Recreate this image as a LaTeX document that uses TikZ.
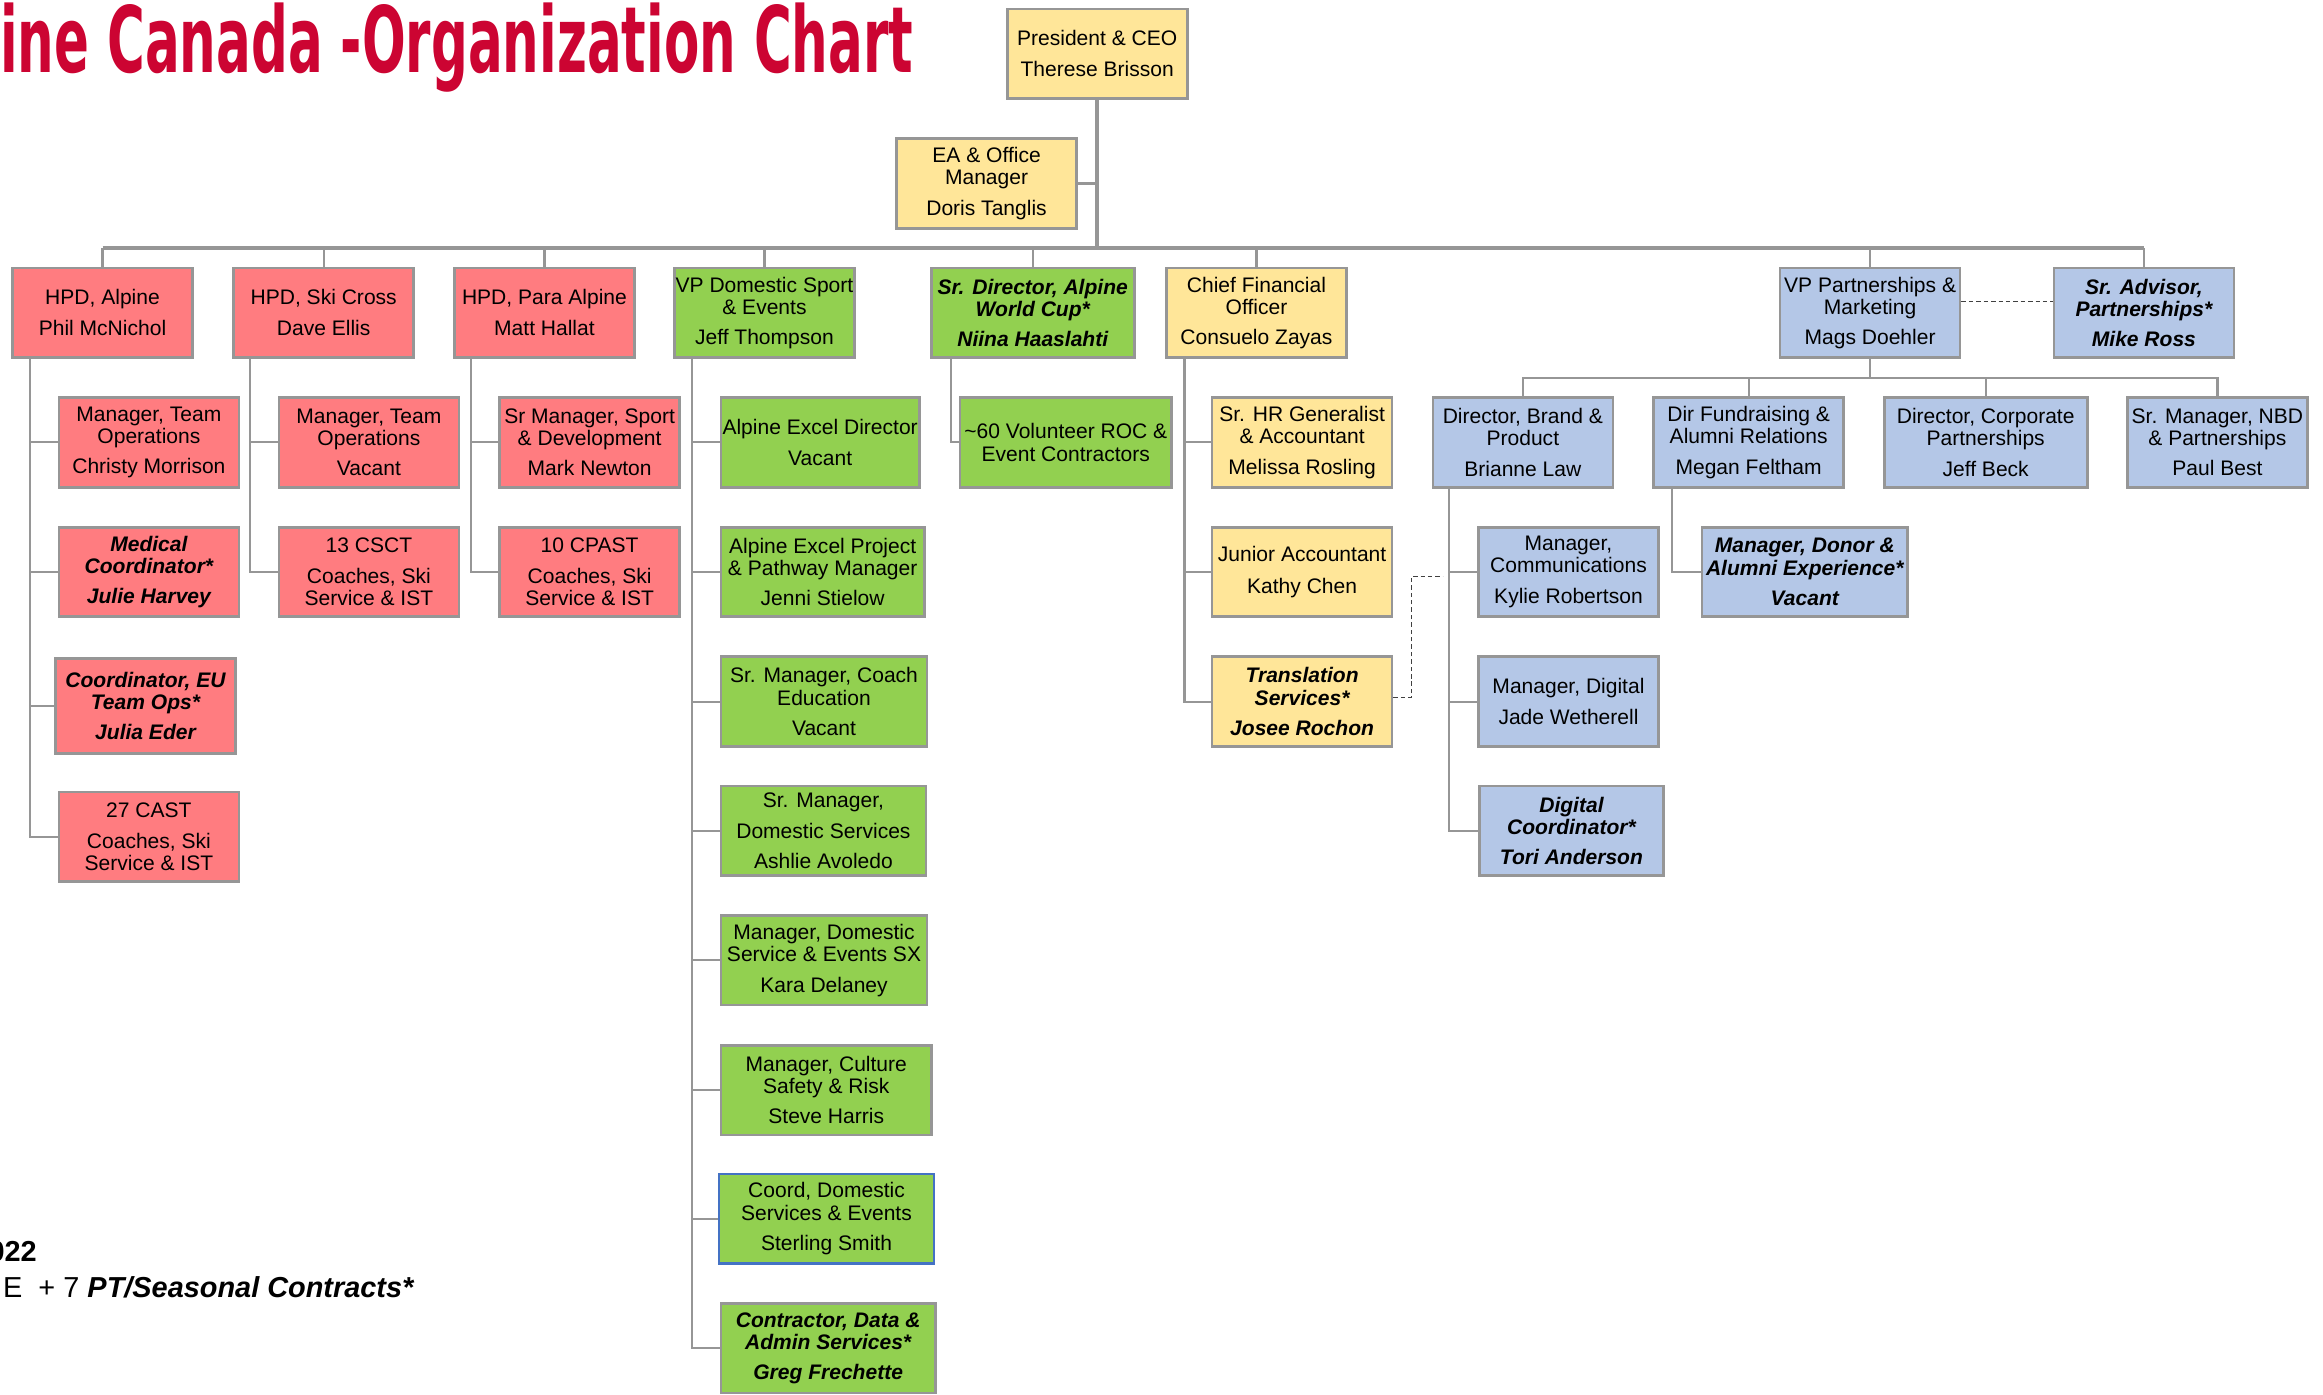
\documentclass[tikz,border=0pt]{standalone}
\usepackage{fontspec}
\setmainfont{Liberation Sans}
\newfontfamily\titlefont{DejaVu Sans}
\usepackage{tikz}
\usepackage{xcolor}

\definecolor{hpdred}{RGB}{255,124,128}
\definecolor{orgyellow}{RGB}{255,230,153}
\definecolor{orggreen}{RGB}{146,208,80}
\definecolor{orgblue}{RGB}{180,199,231}
\definecolor{linegray}{RGB}{150,150,150}
\definecolor{titlered}{RGB}{204,4,50}
\definecolor{coordblue}{RGB}{68,114,196}
\newcommand{\orgfont}{\fontsize{14.2}{15}\selectfont}

\begin{document}
\begin{tikzpicture}[
    x=1pt, y=-1pt,
    box/.style={rectangle, draw=linegray, line width=1.8pt, minimum width=121.5pt, minimum height=60.5pt, inner sep=0pt, align=center, font=\orgfont},
    redbox/.style={box, fill=hpdred},
    yellowbox/.style={box, fill=orgyellow},
    greenbox/.style={box, fill=orggreen},
    bluebox/.style={box, fill=orgblue},
    star/.style={font=\orgfont\bfseries\itshape},
    link/.style={draw=linegray, line width=1.5pt},
    bus/.style={draw=linegray, line width=2.6pt},
    dotline/.style={draw=black!75, line width=0.8pt, dash pattern=on 3pt off 2pt}
]
\path[use as bounding box, fill=white] (0,0) rectangle (1568,941.6);

% Title
\node[anchor=base west, inner sep=0pt, text=titlered] (title) at (0,49) {\resizebox{616pt}{47pt}{\titlefont\bfseries ine Canada -Organization Chart}};

% President and EA
\node[yellowbox] (ceo) at (740.6,36.3) {President \& CEO\\[6pt]Therese Brisson};
\node[yellowbox] (ea) at (665.9,123.8) {EA \& Office\\Manager\\[5.5pt]Doris Tanglis};

% Direct reports
\node[redbox] (hpdalp) at (69.2,211.2) {HPD, Alpine\\[6pt]Phil McNichol};
\node[redbox] (hpdsx) at (218.5,211.2) {HPD, Ski Cross\\[6pt]Dave Ellis};
\node[redbox] (hpdpara) at (367.5,211.2) {HPD, Para Alpine\\[6pt]Matt Hallat};
\node[greenbox] (vpdom) at (516,211.2) {VP Domestic Sport\\\& Events\\[5.5pt]Jeff Thompson};
\node[greenbox, star, minimum width=137pt] (srdir) at (697.1,211.2) {Sr. Director, Alpine\\World Cup*\\[5.5pt]Niina Haaslahti};
\node[yellowbox] (cfo) at (848.1,211.2) {Chief Financial\\Officer\\[5.5pt]Consuelo Zayas};
\node[bluebox] (vpp) at (1262.3,211.2) {VP Partnerships \&\\Marketing\\[5.5pt]Mags Doehler};
\node[bluebox, star] (sradv) at (1447.1,211.2) {Sr. Advisor,\\Partnerships*\\[5.5pt]Mike Ross};

% HPD Alpine team
\node[redbox] (teamops) at (100.5,298.6) {Manager, Team\\Operations\\[5.5pt]Christy Morrison};
\node[redbox, star] (medical) at (100.5,386.1) {Medical\\Coordinator*\\[5.5pt]Julie Harvey};
\node[redbox, star, minimum height=64.3pt] (eucoord) at (98.2,476.5) {Coordinator, EU\\Team Ops*\\[5.5pt]Julia Eder};
\node[redbox] (cast) at (100.5,564.8) {27 CAST\\[6pt]Coaches, Ski\\Service \& IST};

% HPD Ski Cross team
\node[redbox] (sxops) at (249,298.6) {Manager, Team\\Operations\\[5.5pt]Vacant};
\node[redbox] (csct) at (249,386.1) {13 CSCT\\[6pt]Coaches, Ski\\Service \& IST};

% HPD Para Alpine team
\node[redbox] (sportdev) at (398,298.6) {Sr Manager, Sport\\\& Development\\[5.5pt]Mark Newton};
\node[redbox] (cpast) at (398,386.1) {10 CPAST\\[6pt]Coaches, Ski\\Service \& IST};

% VP Domestic team
\node[greenbox, minimum width=134pt] (excel) at (553.6,298.6) {Alpine Excel Director\\[6pt]Vacant};
\node[greenbox, minimum width=137.4pt] (pathway) at (555.3,386.1) {Alpine Excel Project\\\& Pathway Manager\\[5.5pt]Jenni Stielow};
\node[greenbox, minimum width=139.2pt] (coached) at (556.2,473.6) {Sr. Manager, Coach\\Education\\[5.5pt]Vacant};
\node[greenbox, minimum width=138.3pt] (domserv) at (555.8,560.8) {Sr. Manager,\\[5.5pt]Domestic Services\\[5.5pt]Ashlie Avoledo};
\node[greenbox, minimum width=139.2pt] (kara) at (556.2,648.2) {Manager, Domestic\\Service \& Events SX\\[5.5pt]Kara Delaney};
\node[greenbox, minimum width=142.2pt] (culture) at (557.7,735.8) {Manager, Culture\\Safety \& Risk\\[5.5pt]Steve Harris};
\node[greenbox, draw=coordblue, minimum width=145.2pt] (sterling) at (557.9,822.7) {Coord, Domestic\\Services \& Events\\[5.5pt]Sterling Smith};
\node[greenbox, star, minimum width=144.8pt] (greg) at (559,910.1) {Contractor, Data \&\\Admin Services*\\[5.5pt]Greg Frechette};

% World Cup
\node[greenbox, minimum width=142.8pt] (volunteer) at (719.4,298.6) {\textasciitilde60 Volunteer ROC \&\\Event Contractors};

% Finance
\node[yellowbox] (hrgen) at (878.9,298.6) {Sr. HR Generalist\\\& Accountant\\[5.5pt]Melissa Rosling};
\node[yellowbox] (junior) at (878.9,386.1) {Junior Accountant\\[6pt]Kathy Chen};
\node[yellowbox, star] (transl) at (878.9,473.6) {Translation\\Services*\\[5.5pt]Josee Rochon};

% Partnerships
\node[bluebox] (brand) at (1027.9,298.6) {Director, Brand \&\\Product\\[5.5pt]Brianne Law};
\node[bluebox, minimum width=128pt] (fundr) at (1180.3,298.6) {Dir Fundraising \&\\Alumni Relations\\[5.5pt]Megan Feltham};
\node[bluebox, minimum width=137pt] (corp) at (1340.3,298.6) {Director, Corporate\\Partnerships\\[5.5pt]Jeff Beck};
\node[bluebox] (nbd) at (1496.7,298.6) {Sr. Manager, NBD\\\& Partnerships\\[5.5pt]Paul Best};
\node[bluebox] (comms) at (1058.7,386.1) {Manager,\\Communications\\[5.5pt]Kylie Robertson};
\node[bluebox] (digital) at (1058.7,473.6) {Manager, Digital\\[6pt]Jade Wetherell};
\node[bluebox, star, minimum width=124.5pt] (digcoord) at (1060.7,560.8) {Digital\\Coordinator*\\[5.5pt]Tori Anderson};
\node[bluebox, star, minimum width=138.7pt] (donor) at (1218.2,386.1) {Manager, Donor \&\\Alumni Experience*\\[5.5pt]Vacant};

% Footer
\node[anchor=base east, inner sep=0pt, font=\fontsize{19.5}{22}\selectfont\bfseries] (year) at (25,851.6) {022};
\node[anchor=base east, inner sep=0pt, font=\fontsize{19.5}{22}\selectfont] (staff) at (280,876) {E\ \ + 7 \textbf{\textit{PT/Seasonal Contracts*}}};

% Lines
\coordinate (bus) at (740.6,167.4);
\coordinate (vpbus) at (1262.3,255);
\draw[bus] (ceo.south) -- (bus);
\draw[bus] (hpdalp.north |- bus) -- (sradv.north |- bus);
\draw[link] (ea.east) -- (ea.east -| ceo.south);
\draw[link] (hpdalp.north) -- (hpdalp.north |- bus);
\draw[link] (hpdsx.north) -- (hpdsx.north |- bus);
\draw[link] (hpdpara.north) -- (hpdpara.north |- bus);
\draw[link] (vpdom.north) -- (vpdom.north |- bus);
\draw[link] (srdir.north) -- (srdir.north |- bus);
\draw[link] (cfo.north) -- (cfo.north |- bus);
\draw[link] (vpp.north) -- (vpp.north |- bus);
\draw[link] (sradv.north) -- (sradv.north |- bus);

\draw[link] ([xshift=12.5pt]hpdalp.south west) |- (teamops.west);
\draw[link] ([xshift=12.5pt]hpdalp.south west) |- (medical.west);
\draw[link] ([xshift=12.5pt]hpdalp.south west) |- (eucoord.west);
\draw[link] ([xshift=12.5pt]hpdalp.south west) |- (cast.west);

\draw[link] ([xshift=12pt]hpdsx.south west) |- (sxops.west);
\draw[link] ([xshift=12pt]hpdsx.south west) |- (csct.west);

\draw[link] ([xshift=12pt]hpdpara.south west) |- (sportdev.west);
\draw[link] ([xshift=12pt]hpdpara.south west) |- (cpast.west);

\draw[link] ([xshift=12.5pt]vpdom.south west) |- (excel.west);
\draw[link] ([xshift=12.5pt]vpdom.south west) |- (pathway.west);
\draw[link] ([xshift=12.5pt]vpdom.south west) |- (coached.west);
\draw[link] ([xshift=12.5pt]vpdom.south west) |- (domserv.west);
\draw[link] ([xshift=12.5pt]vpdom.south west) |- (kara.west);
\draw[link] ([xshift=12.5pt]vpdom.south west) |- (culture.west);
\draw[link] ([xshift=12.5pt]vpdom.south west) |- (sterling.west);
\draw[link] ([xshift=12.5pt]vpdom.south west) |- (greg.west);

\draw[link] ([xshift=14.3pt]srdir.south west) |- (volunteer.west);

\draw[link] ([xshift=13pt]cfo.south west) |- (hrgen.west);
\draw[link] ([xshift=13pt]cfo.south west) |- (junior.west);
\draw[link] ([xshift=13pt]cfo.south west) |- (transl.west);

\draw[link] (vpp.south) -- (vpbus);
\draw[link] (brand.north) -- (brand.north |- vpbus) -- (nbd.north |- vpbus) -- (nbd.north);
\draw[link] (fundr.north) -- (fundr.north |- vpbus);
\draw[link] (corp.north) -- (corp.north |- vpbus);

\draw[link] ([xshift=12pt]brand.south west) |- (comms.west);
\draw[link] ([xshift=12pt]brand.south west) |- (digital.west);
\draw[link] ([xshift=12pt]brand.south west) |- (digcoord.west);
\draw[link] ([xshift=13pt]fundr.south west) |- (donor.west);

% Dotted links
\draw[dotline] ([yshift=7.6pt]vpp.east) -- ([yshift=7.6pt]sradv.west);
\draw[dotline] ([yshift=2.6pt]transl.east) -| ([xshift=-44.5pt,yshift=-3.2pt]comms.west) -- ([xshift=-23.2pt,yshift=-3.2pt]comms.west);

\end{tikzpicture}
\end{document}
